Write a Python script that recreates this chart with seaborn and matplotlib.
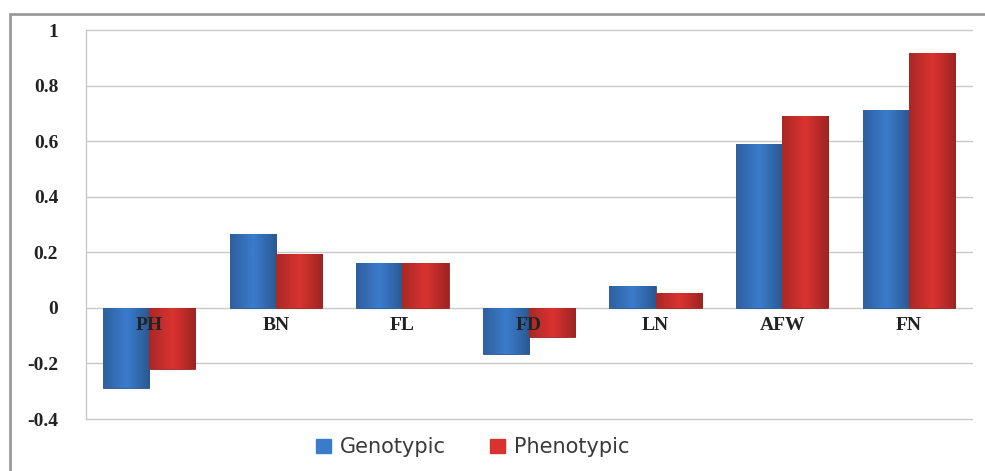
import matplotlib
matplotlib.use("Agg")
import matplotlib.pyplot as plt
import matplotlib.patches as mpatches
import matplotlib.lines as mlines
import matplotlib.colors as mcolors
import numpy as np
import pandas as pd
import seaborn as sns

traits = ["PH", "BN", "FL", "FD", "LN", "AFW", "FN"]
genotypic = [-0.29, 0.267, 0.162, -0.166, 0.079, 0.59, 0.713]
phenotypic = [-0.22, 0.195, 0.162, -0.105, 0.054, 0.69, 0.919]
series = ["Genotypic", "Phenotypic"]
yticks = [-0.4, -0.2, 0, 0.2, 0.4, 0.6, 0.8, 1]
ytick_labels = ["-0.4", "-0.2", "0", "0.2", "0.4", "0.6", "0.8", "1"]

colors = {"Genotypic": "#3b7bcb", "Phenotypic": "#d93330"}

df = pd.DataFrame({
    "trait": traits * 2,
    "series": [series[0]] * len(traits) + [series[1]] * len(traits),
    "value": genotypic + phenotypic,
})

sns.set_theme(style="white")
plt.rcParams["font.family"] = ["Liberation Serif", "DejaVu Serif"]

fig = plt.figure(figsize=(9.85, 4.71), dpi=100)
ax = fig.add_axes([0.0873, 0.1104, 0.8995, 0.8259])

sns.barplot(data=df, x="trait", y="value", hue="series", order=traits,
            hue_order=series, palette=colors, width=0.73, ax=ax,
            legend=False, saturation=1, zorder=3)

ax.set_ylim(-0.4, 1.0)
ax.set_xlim(-0.5, len(traits) - 0.5)

# horizontal shading across each bar for a rounded, bevelled look
shade = np.concatenate([np.linspace(0.78, 1.0, 20), np.linspace(1.0, 0.72, 20)])
for patch in list(ax.patches):
    base = np.array(mcolors.to_rgb(patch.get_facecolor()))
    x0, y0 = patch.get_x(), patch.get_y()
    w, h = patch.get_width(), patch.get_height()
    img = np.clip(base[None, None, :] * shade[None, :, None], 0, 1)
    im = ax.imshow(img, extent=(x0, x0 + w, min(y0, y0 + h), max(y0, y0 + h)),
                   aspect="auto", zorder=3.5, interpolation="bilinear")
    im.set_clip_path(patch)
    patch.set_edgecolor(tuple(base * 0.7))
    patch.set_linewidth(0.6)

ax.set_ylim(-0.4, 1.0)
ax.set_xlim(-0.5, len(traits) - 0.5)
ax.set_yticks(yticks)
ax.set_yticklabels(ytick_labels, fontsize=14, fontweight="bold", color="#222222")
ax.tick_params(axis="y", length=0, pad=20)
ax.set_xticks([])
ax.set_xlabel("")
ax.set_ylabel("")

ax.yaxis.grid(True, color="#c8c8c8", linewidth=1.0, zorder=0)
for gl in ax.get_ygridlines():
    gl.set_clip_on(False)
ax.set_axisbelow(True)
for side in ["top", "right", "bottom"]:
    ax.spines[side].set_visible(False)
ax.spines["left"].set_color("#c8c8c8")
ax.spines["left"].set_linewidth(1.0)

# category names just under the zero line
for i, name in enumerate(traits):
    ax.text(i, -0.064, name, ha="center", va="center", fontsize=14,
            fontweight="bold", color="#222222", zorder=5)

handles = [mpatches.Patch(facecolor=colors[s], edgecolor=colors[s]) for s in series]
leg = fig.legend(handles, series, loc="center", bbox_to_anchor=(0.480, 0.050),
                 ncol=2, frameon=False, handlelength=0.7, handleheight=0.7,
                 columnspacing=2.1, handletextpad=0.45,
                 prop={"family": "DejaVu Sans", "size": 15})
for t in leg.get_texts():
    t.set_color("#3a3a3a")

# outer chart frame (top and left edges)
fx, fy = 10 / 985, 1 - 14 / 471
for xs, ys in [((fx, 1), (fy, fy)), ((fx, fx), (0, fy))]:
    fig.lines.append(mlines.Line2D(xs, ys, transform=fig.transFigure,
                                   color="#9a9a9a", linewidth=2))

fig.savefig("out.png", dpi=100, facecolor="white")
